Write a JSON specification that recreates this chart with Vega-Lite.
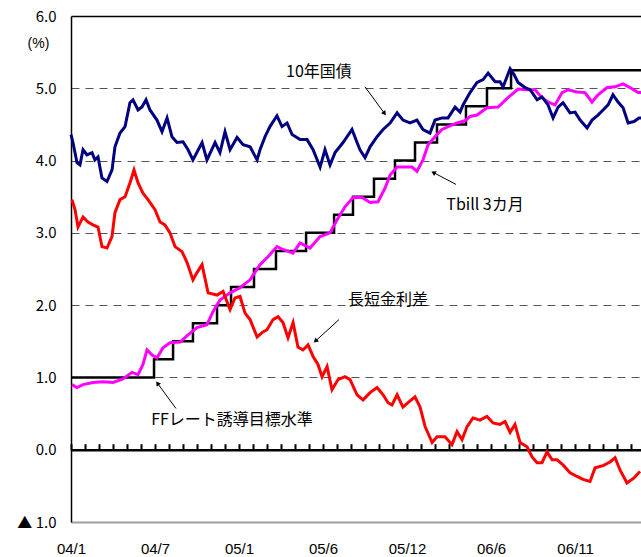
{
  "$schema": "https://vega.github.io/schema/vega-lite/v6.json",
  "width": 570,
  "height": 506,
  "autosize": "none",
  "padding": {"left": 71, "top": 16, "right": 0, "bottom": 35},
  "config": {
    "view": {"stroke": null},
    "font": "Liberation Sans",
    "axis": {"labelFont": "Liberation Sans", "labelColor": "#000", "titleColor": "#000"}
  },
  "datasets": {
    "ff": [
      {"t": 0, "v": 1.0}, {"t": 5.93, "v": 1.25}, {"t": 7.29, "v": 1.5}, {"t": 8.71, "v": 1.75},
      {"t": 10.43, "v": 2.0}, {"t": 11.43, "v": 2.25}, {"t": 13.07, "v": 2.5}, {"t": 14.64, "v": 2.75},
      {"t": 16.79, "v": 3.0}, {"t": 18.79, "v": 3.25}, {"t": 20.14, "v": 3.5}, {"t": 21.64, "v": 3.75},
      {"t": 23.14, "v": 4.0}, {"t": 24.57, "v": 4.25}, {"t": 26.14, "v": 4.5}, {"t": 28.21, "v": 4.75},
      {"t": 29.71, "v": 5.0}, {"t": 31.43, "v": 5.25}, {"t": 40.71, "v": 5.25}
    ],
    "ust": [
      {"t": 0, "v": 4.36}, {"t": 0.14, "v": 4.25}, {"t": 0.43, "v": 3.97}, {"t": 0.64, "v": 3.94},
      {"t": 0.86, "v": 4.15}, {"t": 1.14, "v": 4.08}, {"t": 1.5, "v": 4.11}, {"t": 1.71, "v": 4.01},
      {"t": 1.93, "v": 4.05}, {"t": 2.21, "v": 3.76}, {"t": 2.57, "v": 3.71}, {"t": 2.93, "v": 3.87},
      {"t": 3.14, "v": 4.19}, {"t": 3.5, "v": 4.38}, {"t": 3.86, "v": 4.47}, {"t": 4.21, "v": 4.8},
      {"t": 4.43, "v": 4.84}, {"t": 4.79, "v": 4.7}, {"t": 5.07, "v": 4.74}, {"t": 5.36, "v": 4.84},
      {"t": 5.64, "v": 4.7}, {"t": 6.14, "v": 4.56}, {"t": 6.5, "v": 4.4}, {"t": 6.86, "v": 4.59},
      {"t": 7.21, "v": 4.33}, {"t": 7.57, "v": 4.25}, {"t": 8.0, "v": 4.26}, {"t": 8.36, "v": 4.15},
      {"t": 8.71, "v": 4.01}, {"t": 9.36, "v": 4.25}, {"t": 9.71, "v": 4.01}, {"t": 10.29, "v": 4.25},
      {"t": 10.64, "v": 4.11}, {"t": 11.0, "v": 4.4}, {"t": 11.36, "v": 4.15}, {"t": 11.86, "v": 4.32},
      {"t": 12.29, "v": 4.22}, {"t": 12.79, "v": 4.19}, {"t": 13.29, "v": 4.01}, {"t": 13.5, "v": 4.15},
      {"t": 13.86, "v": 4.33}, {"t": 14.21, "v": 4.47}, {"t": 14.71, "v": 4.62}, {"t": 15.07, "v": 4.47},
      {"t": 15.43, "v": 4.52}, {"t": 15.79, "v": 4.36}, {"t": 16.36, "v": 4.29}, {"t": 16.86, "v": 4.29},
      {"t": 17.29, "v": 4.15}, {"t": 17.79, "v": 3.91}, {"t": 18.14, "v": 4.15}, {"t": 18.5, "v": 3.94},
      {"t": 18.86, "v": 4.11}, {"t": 19.43, "v": 4.25}, {"t": 20.07, "v": 4.43}, {"t": 20.43, "v": 4.25},
      {"t": 20.64, "v": 4.15}, {"t": 21.0, "v": 4.04}, {"t": 21.36, "v": 4.19}, {"t": 21.86, "v": 4.33},
      {"t": 22.29, "v": 4.43}, {"t": 22.79, "v": 4.52}, {"t": 23.29, "v": 4.66}, {"t": 23.71, "v": 4.56},
      {"t": 24.21, "v": 4.52}, {"t": 24.71, "v": 4.56}, {"t": 25.14, "v": 4.43}, {"t": 25.64, "v": 4.38},
      {"t": 26.0, "v": 4.56}, {"t": 26.5, "v": 4.59}, {"t": 26.93, "v": 4.59}, {"t": 27.43, "v": 4.74},
      {"t": 27.79, "v": 4.67}, {"t": 28.0, "v": 4.77}, {"t": 28.5, "v": 4.94}, {"t": 29.0, "v": 5.08},
      {"t": 29.43, "v": 5.12}, {"t": 29.79, "v": 5.21}, {"t": 30.29, "v": 5.09}, {"t": 30.64, "v": 5.09},
      {"t": 30.86, "v": 5.02}, {"t": 31.14, "v": 5.16}, {"t": 31.36, "v": 5.27}, {"t": 31.64, "v": 5.19},
      {"t": 31.93, "v": 5.08}, {"t": 32.43, "v": 5.01}, {"t": 32.79, "v": 4.98}, {"t": 33.29, "v": 4.84},
      {"t": 33.64, "v": 4.88}, {"t": 34.07, "v": 4.77}, {"t": 34.43, "v": 4.59}, {"t": 34.79, "v": 4.74},
      {"t": 35.14, "v": 4.8}, {"t": 35.64, "v": 4.66}, {"t": 36.0, "v": 4.67}, {"t": 36.36, "v": 4.56},
      {"t": 36.86, "v": 4.45}, {"t": 37.21, "v": 4.56}, {"t": 37.64, "v": 4.63}, {"t": 38.0, "v": 4.7},
      {"t": 38.36, "v": 4.77}, {"t": 38.71, "v": 4.91}, {"t": 39.07, "v": 4.81}, {"t": 39.43, "v": 4.73},
      {"t": 39.79, "v": 4.52}, {"t": 40.21, "v": 4.54}, {"t": 40.57, "v": 4.59}, {"t": 40.71, "v": 4.59}
    ],
    "tb": [
      {"t": 0.07, "v": 0.9}, {"t": 0.43, "v": 0.86}, {"t": 0.86, "v": 0.9}, {"t": 1.57, "v": 0.93},
      {"t": 2.29, "v": 0.94}, {"t": 3.0, "v": 0.93}, {"t": 3.71, "v": 0.98}, {"t": 4.36, "v": 1.07},
      {"t": 4.79, "v": 1.04}, {"t": 5.14, "v": 1.18}, {"t": 5.43, "v": 1.38}, {"t": 5.79, "v": 1.31},
      {"t": 6.14, "v": 1.27}, {"t": 6.57, "v": 1.41}, {"t": 7.07, "v": 1.48}, {"t": 7.79, "v": 1.49},
      {"t": 8.36, "v": 1.59}, {"t": 9.0, "v": 1.69}, {"t": 9.71, "v": 1.73}, {"t": 10.14, "v": 1.91},
      {"t": 10.64, "v": 2.07}, {"t": 11.36, "v": 2.17}, {"t": 12.07, "v": 2.24}, {"t": 12.79, "v": 2.35},
      {"t": 13.5, "v": 2.56}, {"t": 14.07, "v": 2.67}, {"t": 14.71, "v": 2.81}, {"t": 15.14, "v": 2.77},
      {"t": 15.86, "v": 2.72}, {"t": 16.36, "v": 2.86}, {"t": 17.07, "v": 2.79}, {"t": 17.79, "v": 2.95},
      {"t": 18.5, "v": 3.0}, {"t": 19.0, "v": 3.18}, {"t": 19.57, "v": 3.36}, {"t": 20.14, "v": 3.49},
      {"t": 20.79, "v": 3.49}, {"t": 21.36, "v": 3.42}, {"t": 21.93, "v": 3.43}, {"t": 22.43, "v": 3.62},
      {"t": 22.79, "v": 3.8}, {"t": 23.29, "v": 3.91}, {"t": 23.71, "v": 3.91}, {"t": 24.36, "v": 3.91},
      {"t": 24.71, "v": 3.85}, {"t": 25.14, "v": 4.01}, {"t": 25.5, "v": 4.22}, {"t": 26.0, "v": 4.33},
      {"t": 26.5, "v": 4.43}, {"t": 27.07, "v": 4.48}, {"t": 27.57, "v": 4.52}, {"t": 28.14, "v": 4.55},
      {"t": 28.5, "v": 4.61}, {"t": 29.0, "v": 4.63}, {"t": 29.71, "v": 4.73}, {"t": 30.5, "v": 4.74},
      {"t": 31.21, "v": 4.87}, {"t": 31.93, "v": 4.99}, {"t": 32.57, "v": 4.98}, {"t": 33.14, "v": 4.98},
      {"t": 33.64, "v": 4.87}, {"t": 34.07, "v": 4.81}, {"t": 34.57, "v": 4.77}, {"t": 35.07, "v": 4.94},
      {"t": 35.5, "v": 4.98}, {"t": 36.14, "v": 4.95}, {"t": 36.71, "v": 4.94}, {"t": 37.21, "v": 4.81},
      {"t": 37.64, "v": 4.91}, {"t": 38.29, "v": 5.01}, {"t": 38.86, "v": 5.02}, {"t": 39.43, "v": 5.06},
      {"t": 39.93, "v": 5.01}, {"t": 40.5, "v": 4.94}, {"t": 40.71, "v": 4.94}
    ],
    "sp": [
      {"t": 0.07, "v": 3.46}, {"t": 0.29, "v": 3.32}, {"t": 0.5, "v": 3.08}, {"t": 0.86, "v": 3.22},
      {"t": 1.21, "v": 3.15}, {"t": 1.57, "v": 3.11}, {"t": 1.93, "v": 3.08}, {"t": 2.21, "v": 2.81},
      {"t": 2.57, "v": 2.79}, {"t": 2.93, "v": 2.95}, {"t": 3.14, "v": 3.28}, {"t": 3.5, "v": 3.46},
      {"t": 3.86, "v": 3.5}, {"t": 4.21, "v": 3.69}, {"t": 4.5, "v": 3.87}, {"t": 4.79, "v": 3.69},
      {"t": 5.14, "v": 3.55}, {"t": 5.5, "v": 3.46}, {"t": 6.0, "v": 3.32}, {"t": 6.36, "v": 3.15},
      {"t": 6.71, "v": 3.11}, {"t": 7.07, "v": 3.0}, {"t": 7.43, "v": 2.81}, {"t": 7.93, "v": 2.74},
      {"t": 8.29, "v": 2.59}, {"t": 8.71, "v": 2.35}, {"t": 9.0, "v": 2.45}, {"t": 9.36, "v": 2.56},
      {"t": 9.79, "v": 2.17}, {"t": 10.43, "v": 2.14}, {"t": 10.86, "v": 2.19}, {"t": 11.36, "v": 1.94},
      {"t": 11.71, "v": 2.1}, {"t": 12.07, "v": 2.12}, {"t": 12.43, "v": 1.89}, {"t": 12.79, "v": 1.8},
      {"t": 13.29, "v": 1.56}, {"t": 13.71, "v": 1.63}, {"t": 14.0, "v": 1.66}, {"t": 14.43, "v": 1.8},
      {"t": 14.79, "v": 1.84}, {"t": 15.14, "v": 1.76}, {"t": 15.5, "v": 1.55}, {"t": 15.86, "v": 1.76},
      {"t": 16.21, "v": 1.42}, {"t": 16.57, "v": 1.38}, {"t": 16.93, "v": 1.45}, {"t": 17.29, "v": 1.29},
      {"t": 17.64, "v": 1.18}, {"t": 17.93, "v": 1.01}, {"t": 18.29, "v": 1.15}, {"t": 18.64, "v": 0.83},
      {"t": 19.07, "v": 0.97}, {"t": 19.57, "v": 1.01}, {"t": 19.93, "v": 0.97}, {"t": 20.43, "v": 0.76},
      {"t": 20.86, "v": 0.69}, {"t": 21.36, "v": 0.79}, {"t": 21.86, "v": 0.86}, {"t": 22.29, "v": 0.76},
      {"t": 22.64, "v": 0.65}, {"t": 22.93, "v": 0.62}, {"t": 23.29, "v": 0.76}, {"t": 23.71, "v": 0.59},
      {"t": 24.07, "v": 0.65}, {"t": 24.57, "v": 0.73}, {"t": 24.93, "v": 0.59}, {"t": 25.29, "v": 0.32},
      {"t": 25.79, "v": 0.1}, {"t": 26.14, "v": 0.18}, {"t": 26.71, "v": 0.18}, {"t": 27.21, "v": 0.07},
      {"t": 27.57, "v": 0.25}, {"t": 27.93, "v": 0.14}, {"t": 28.29, "v": 0.32}, {"t": 28.71, "v": 0.44},
      {"t": 29.21, "v": 0.41}, {"t": 29.71, "v": 0.46}, {"t": 30.14, "v": 0.37}, {"t": 30.64, "v": 0.35},
      {"t": 31.0, "v": 0.39}, {"t": 31.36, "v": 0.24}, {"t": 31.71, "v": 0.35}, {"t": 32.07, "v": 0.1},
      {"t": 32.57, "v": 0.04}, {"t": 32.93, "v": -0.1}, {"t": 33.29, "v": -0.18}, {"t": 33.64, "v": -0.18},
      {"t": 34.0, "v": -0.03}, {"t": 34.36, "v": -0.14}, {"t": 34.71, "v": -0.14}, {"t": 35.14, "v": -0.21},
      {"t": 35.64, "v": -0.32}, {"t": 36.14, "v": -0.37}, {"t": 36.57, "v": -0.41}, {"t": 37.07, "v": -0.44},
      {"t": 37.43, "v": -0.25}, {"t": 38.0, "v": -0.22}, {"t": 38.5, "v": -0.17}, {"t": 38.86, "v": -0.11},
      {"t": 39.21, "v": -0.28}, {"t": 39.71, "v": -0.46}, {"t": 40.21, "v": -0.39}, {"t": 40.64, "v": -0.3}
    ],
    "ann": [
      {"t": 17.71, "v": 5.23, "label": "10年国債"},
      {"t": 29.57, "v": 3.39, "label": "Tbill 3カ月"},
      {"t": 22.64, "v": 2.07, "label": "長短金利差"},
      {"t": 11.5, "v": 0.41, "label": "FFレート誘導目標水準"}
    ],
    "arr": [
      {"t": 21.0, "v": 5.02, "t2": 22.36, "v2": 4.66, "ang": 144},
      {"t": 27.5, "v": 3.67, "t2": 25.93, "v2": 3.83, "ang": 299},
      {"t": 19.14, "v": 1.8, "t2": 17.5, "v2": 1.51, "ang": 228},
      {"t": 7.5, "v": 0.57, "t2": 6.21, "v2": 0.91, "ang": 324}
    ]
  },
  "resolve": {"axis": {"x": "independent", "y": "independent"}},
  "layer": [
    {
      "data": {"name": "ff"},
      "mark": {"type": "line", "interpolate": "step-after", "color": "#000000", "strokeWidth": 2.5},
      "encoding": {
        "x": {
          "field": "t", "type": "quantitative",
          "scale": {"domain": [0, 40.71], "nice": false, "zero": false},
          "axis": {
            "orient": "bottom", "values": [0, 6, 12, 18, 24, 30, 36],
            "labelExpr": "['04/1','04/7','05/1','05/6','05/12','06/6','06/11'][round(datum.value/6)]",
            "ticks": false, "grid": false, "domainColor": "#a0a0a0", "domainWidth": 2,
            "labelFontSize": 15, "labelPadding": 19, "title": null, "labelFlush": false
          }
        },
        "y": {
          "field": "v", "type": "quantitative",
          "scale": {"domain": [-1, 6], "nice": false, "zero": false},
          "axis": {
            "orient": "left", "values": [-1, 0, 1, 2, 3, 4, 5, 6],
            "labelExpr": "datum.value < 0 ? '▲ 1.0' : format(datum.value, '.1f')",
            "ticks": false, "grid": false, "domainColor": "#000000", "domainWidth": 1.5,
            "labelFontSize": 15, "labelPadding": 15, "labelFont": "Noto Sans CJK JP",
            "title": "(%)", "titleAngle": 0, "titleX": -33, "titleY": 27,
            "titleAlign": "center", "titleBaseline": "middle",
            "titleFontWeight": "normal", "titleFontSize": 14, "titleFont": "Liberation Sans"
          }
        }
      }
    },
    {
      "data": {"name": "tb"},
      "mark": {"type": "line", "color": "#FF00FF", "strokeWidth": 3},
      "encoding": {
        "x": {
          "field": "t", "type": "quantitative",
          "scale": {"domain": [0, 40.71], "nice": false, "zero": false},
          "axis": {
            "orient": "top", "offset": -433.71,
            "values": [0,1,2,3,4,5,6,7,8,9,10,11,12,13,14,15,16,17,18,19,20,21,22,23,24,25,26,27,28,29,30,31,32,33,34,35,36,37,38,39,40],
            "labels": false, "ticks": true, "tickSize": 6, "tickWidth": 2, "tickColor": "#000000",
            "domain": true, "domainColor": "#000000", "domainWidth": 2.5, "grid": false, "title": null
          }
        },
        "y": {
          "field": "v", "type": "quantitative",
          "scale": {"domain": [-1, 6], "nice": false, "zero": false},
          "axis": {
            "orient": "left", "values": [1, 2, 3, 4, 5],
            "labels": false, "ticks": false, "domain": false,
            "grid": true, "gridDash": [8, 6], "gridColor": "#555555", "gridWidth": 1, "title": null
          }
        }
      }
    },
    {
      "data": {"name": "sp"},
      "mark": {"type": "line", "color": "#FF0000", "strokeWidth": 3},
      "encoding": {
        "x": {
          "field": "t", "type": "quantitative",
          "scale": {"domain": [0, 40.71], "nice": false, "zero": false},
          "axis": {
            "orient": "top", "offset": 0, "labels": false, "ticks": false,
            "domain": true, "domainColor": "#000000", "domainWidth": 1.5, "grid": false, "title": null
          }
        },
        "y": {"field": "v", "type": "quantitative", "scale": {"domain": [-1, 6], "nice": false, "zero": false}, "axis": null}
      }
    },
    {
      "data": {"name": "ust"},
      "mark": {"type": "line", "color": "#000080", "strokeWidth": 3},
      "encoding": {
        "x": {"field": "t", "type": "quantitative", "scale": {"domain": [0, 40.71], "nice": false, "zero": false}, "axis": null},
        "y": {"field": "v", "type": "quantitative", "scale": {"domain": [-1, 6], "nice": false, "zero": false}, "axis": null}
      }
    },
    {
      "data": {"name": "arr"},
      "mark": {"type": "rule", "color": "#000000", "strokeWidth": 1},
      "encoding": {
        "x": {"field": "t", "type": "quantitative", "axis": null},
        "y": {"field": "v", "type": "quantitative", "axis": null},
        "x2": {"field": "t2"},
        "y2": {"field": "v2"}
      }
    },
    {
      "data": {"name": "arr"},
      "mark": {"type": "point", "shape": "triangle", "filled": true, "color": "#000000", "size": 28, "opacity": 1},
      "encoding": {
        "x": {"field": "t2", "type": "quantitative", "axis": null},
        "y": {"field": "v2", "type": "quantitative", "axis": null},
        "angle": {"field": "ang", "type": "quantitative", "scale": null}
      }
    },
    {
      "data": {"name": "ann"},
      "mark": {"type": "text", "font": "Noto Sans CJK JP", "fontSize": 16, "color": "#000000", "align": "center", "baseline": "middle"},
      "encoding": {
        "x": {"field": "t", "type": "quantitative", "axis": null},
        "y": {"field": "v", "type": "quantitative", "axis": null},
        "text": {"field": "label", "type": "nominal"}
      }
    }
  ]
}
